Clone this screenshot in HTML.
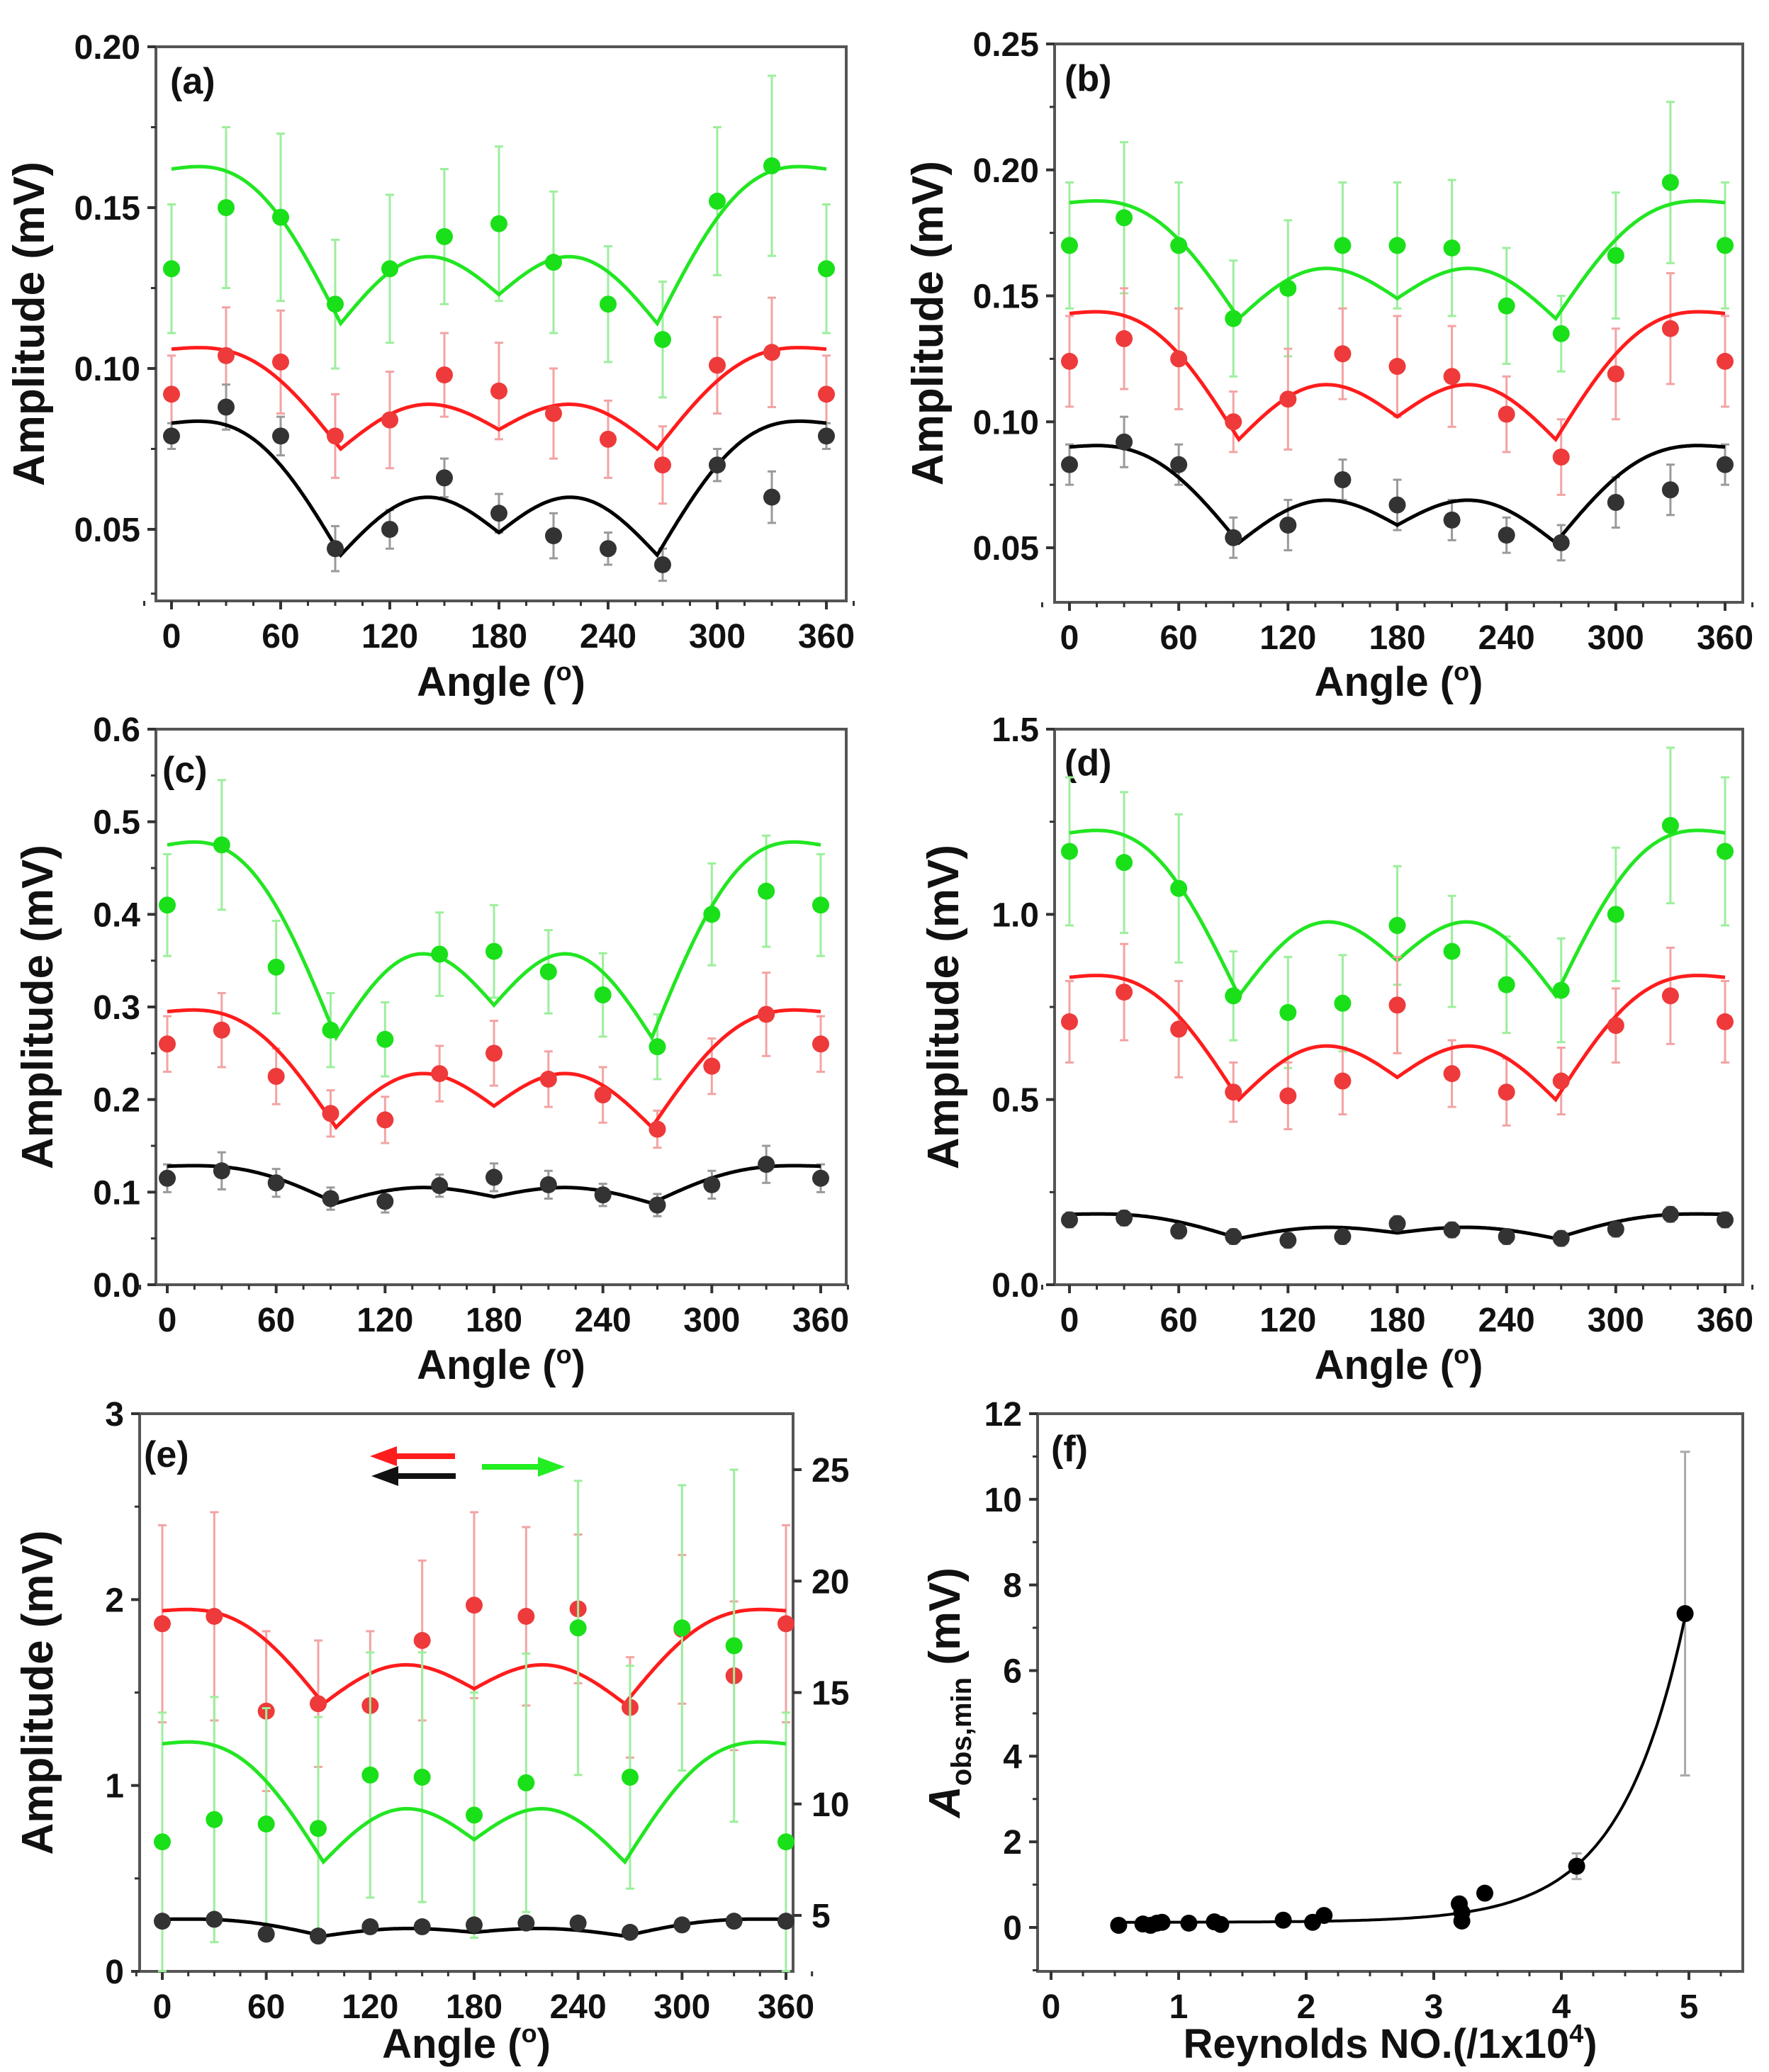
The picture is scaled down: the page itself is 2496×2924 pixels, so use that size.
<!DOCTYPE html>
<html><head><meta charset="utf-8">
<style>
html,body{margin:0;padding:0;background:#fff;}
svg{display:block;font-family:"Liberation Sans",Arial,sans-serif;font-weight:bold;}
</style></head>
<body>
<svg id="fig" width="2496" height="2924" viewBox="0 0 2496 2924" xmlns="http://www.w3.org/2000/svg"></svg>
<script>
// ---------- DATA ----------
const angles = [0,30,60,90,120,150,180,210,240,270,300,330,360];
// panel a
const aGreen = [0.131,0.150,0.147,0.120,0.131,0.141,0.145,0.133,0.120,0.109,0.152,0.163,0.131];
const aGreenErr = [0.02,0.025,0.026,0.02,0.023,0.021,0.024,0.022,0.018,0.018,0.023,0.028,0.02];
const aRed = [0.092,0.104,0.102,0.079,0.084,0.098,0.093,0.086,0.078,0.070,0.101,0.105,0.092];
const aRedErr = [0.012,0.015,0.016,0.013,0.015,0.013,0.015,0.014,0.012,0.012,0.015,0.017,0.012];
const aBlack = [0.079,0.088,0.079,0.044,0.050,0.066,0.055,0.048,0.044,0.039,0.070,0.060,0.079];
const aBlackErr = [0.004,0.007,0.006,0.007,0.006,0.006,0.006,0.007,0.005,0.005,0.005,0.008,0.004];
// fit params: [value at 0, lobe A bump, value at 93, lobe B bump, value at 180]
const aGreenFit = [0.162,0.0175,0.114,0.016,0.123];
const aRedFit = [0.106,0.0113,0.075,0.0107,0.081];
const aBlackFit = [0.083,0.0149,0.042,0.0143,0.049];
// panel b
const bGreen = [0.170,0.181,0.170,0.141,0.153,0.170,0.170,0.169,0.146,0.135,0.166,0.195,0.170];
const bGreenErr = [0.025,0.03,0.025,0.023,0.027,0.025,0.025,0.027,0.023,0.015,0.025,0.032,0.025];
const bRed = [0.124,0.133,0.125,0.100,0.109,0.127,0.122,0.118,0.103,0.086,0.119,0.137,0.124];
const bRedErr = [0.018,0.02,0.02,0.012,0.02,0.018,0.02,0.02,0.015,0.015,0.018,0.022,0.018];
const bBlack = [0.083,0.092,0.083,0.054,0.059,0.077,0.067,0.061,0.055,0.052,0.068,0.073,0.083];
const bBlackErr = [0.008,0.01,0.008,0.008,0.01,0.008,0.01,0.008,0.007,0.007,0.01,0.01,0.008];
const bGreenFit = [0.187,0.0167,0.141,0.0157,0.149];
const bRedFit = [0.143,0.018,0.093,0.017,0.102];
const bBlackFit = [0.090,0.0138,0.052,0.0132,0.059];
// panel c
const cGreen = [0.41,0.475,0.343,0.275,0.265,0.357,0.36,0.338,0.313,0.257,0.40,0.425,0.41];
const cGreenErr = [0.055,0.07,0.05,0.04,0.04,0.045,0.05,0.045,0.045,0.035,0.055,0.06,0.055];
const cRed = [0.26,0.275,0.225,0.185,0.178,0.228,0.25,0.222,0.205,0.168,0.236,0.292,0.26];
const cRedErr = [0.03,0.04,0.03,0.025,0.025,0.03,0.035,0.03,0.03,0.02,0.03,0.045,0.03];
const cBlack = [0.115,0.123,0.11,0.093,0.09,0.107,0.116,0.108,0.097,0.086,0.108,0.13,0.115];
const cBlackErr = [0.015,0.02,0.015,0.012,0.012,0.012,0.015,0.015,0.012,0.012,0.015,0.02,0.015];
const cGreenFit = [0.475,0.0756,0.267,0.072,0.302];
const cRedFit = [0.295,0.045,0.17,0.046,0.193];
const cBlackFit = [0.128,0.0145,0.088,0.0133,0.095];
// panel d
const dGreen = [1.17,1.14,1.07,0.78,0.735,0.76,0.97,0.90,0.81,0.795,1.0,1.24,1.17];
const dGreenErr = [0.2,0.19,0.2,0.12,0.15,0.13,0.16,0.15,0.13,0.14,0.18,0.21,0.2];
const dRed = [0.71,0.79,0.69,0.52,0.51,0.55,0.755,0.57,0.52,0.55,0.70,0.78,0.71];
const dRedErr = [0.11,0.13,0.13,0.08,0.09,0.09,0.13,0.09,0.09,0.09,0.1,0.13,0.11];
const dBlack = [0.175,0.18,0.145,0.13,0.12,0.13,0.165,0.148,0.13,0.125,0.15,0.19,0.175];
const dBlackErr = [0.02,0.02,0.02,0.02,0.02,0.02,0.02,0.02,0.02,0.02,0.02,0.02,0.02];
const dGreenFit = [1.22,0.16,0.78,0.149,0.875];
const dRedFit = [0.83,0.12,0.50,0.113,0.56];
const dBlackFit = [0.19,0.024,0.125,0.022,0.14];
// panel e (red, black on left axis; green on right axis)
const eRed = [1.87,1.91,1.40,1.44,1.43,1.78,1.97,1.91,1.95,1.42,1.84,1.59,1.87];
const eRedErr = [0.53,0.56,0.43,0.34,0.4,0.43,0.5,0.48,0.4,0.27,0.4,0.4,0.53];
const eBlack = [0.27,0.28,0.2,0.19,0.24,0.24,0.25,0.26,0.26,0.21,0.25,0.27,0.27];
const eBlackErr = [0.03,0.03,0.03,0.03,0.03,0.03,0.03,0.03,0.03,0.03,0.03,0.03,0.03];
const eGreen = [8.3,9.3,9.1,8.9,11.3,11.2,9.5,10.95,17.9,11.2,17.9,17.1,8.3];
const eGreenErr = [5.8,5.5,5.2,5.0,5.5,5.6,5.5,5.8,6.6,5.0,6.4,7.9,5.8];
const eRedFit = [1.94,0.18,1.44,0.167,1.52];
const eBlackFit = [0.28,0.033,0.19,0.03,0.21];
const eGreenFit = [12.7,1.93,7.4,1.86,8.4];
// panel f
const fX = [0.53,0.72,0.78,0.83,0.87,1.08,1.28,1.33,1.82,2.05,2.14,3.2,3.22,3.22,3.4,4.12,4.97];
const fY = [0.05,0.08,0.05,0.1,0.12,0.1,0.13,0.07,0.17,0.12,0.28,0.55,0.35,0.15,0.8,1.43,7.33];
const fErr = [0,0,0,0,0,0,0,0,0,0,0,0,0,0,0,0.3,3.78];
const fFit = [0.12,0.00038,1.98]; // a + b*exp(c*x)

// ---------- DRAWING ----------
const NS = "http://www.w3.org/2000/svg";
const svg = document.getElementById('fig');
function mk(tag, attrs, parent, text){
  const e = document.createElementNS(NS, tag);
  for (const k in attrs) e.setAttribute(k, attrs[k]);
  if (text !== undefined) e.textContent = text;
  (parent||svg).appendChild(e);
  return e;
}
const COL = {g:'#19e019', r:'#ee3a3a', k:'#333333'};
const ECOL = {g:'#9cef9c', r:'#f3a3a3', k:'#9a9a9a'};
const FCOL = {g:'#22e622', r:'#ff1c1c', k:'#000000'};
const TICKFS = 48, TITLEFS = 58;

function lin(d0,d1,r0,r1){ return v => r0 + (v-d0)*(r1-r0)/(d1-d0); }

function fitVal(p, th){
  let t = th > 180 ? 360 - th : th;
  const [v0,hA,vm,hB,v180] = p;
  if (t <= 93){ const u = t/93; return v0 + (vm-v0)*u + hA*Math.sin(Math.PI*u); }
  const u = (t-93)/87; return vm + (v180-vm)*u + hB*Math.sin(Math.PI*u);
}

function panel(cfg){
  const g = mk('g', {}, svg);
  
  
  const {x0,x1,y0,y1} = cfg.box;
  const sx = lin(cfg.xd[0], cfg.xd[1], cfg.xr[0], cfg.xr[1]);
  const sy = lin(cfg.yd[0], cfg.yd[1], cfg.yr[0], cfg.yr[1]);
  const fr = mk('rect', {x:x0,y:y0,width:x1-x0,height:y1-y0,fill:'none',stroke:'#555',"stroke-width":4}, g);
   
  const yax = mk('g', {}, g);
   
  cfg.yticks.forEach((v,i)=>{
    const y = sy(v);
    mk('line',{x1:x0-12,x2:x0,y1:y,y2:y,stroke:'#333',"stroke-width":4},yax);
    const t = mk('text',{x:x0-22,y:y+17,"text-anchor":"end","font-size":TICKFS,fill:'#111'},yax,cfg.ylabels[i]);
     
  });
  cfg.yminor.forEach(v=>{ const y=sy(v); mk('line',{x1:x0-7,x2:x0,y1:y,y2:y,stroke:'#333',"stroke-width":3},yax); });
  const xax = mk('g', {}, g);
   
  cfg.xticks.forEach((v,i)=>{
    const x = sx(v);
    mk('line',{x1:x,x2:x,y1:y1,y2:y1+12,stroke:'#333',"stroke-width":4},xax);
    const t = mk('text',{x:x,y:y1+66,"text-anchor":"middle","font-size":TICKFS,fill:'#111'},xax,cfg.xlabels[i]);
     
  });
  cfg.xminor.forEach(v=>{ const x=sx(v); mk('line',{x1:x,x2:x,y1:y1,y2:y1+7,stroke:'#333',"stroke-width":3},xax); });
  const xt = mk('text',{x:(x0+x1)/2,y:cfg.xtitleY,"text-anchor":"middle","font-size":TITLEFS,fill:'#111'},g);
   
  if (cfg.reynolds){
    xt.textContent = 'Reynolds NO.(/1x10';
    mk('tspan',{dy:-22,"font-size":36},xt,'4');
    mk('tspan',{dy:22},xt,')');
  } else {
    xt.textContent = 'Angle (';
    mk('tspan',{dy:-22,"font-size":36},xt,'o');
    mk('tspan',{dy:22},xt,')');
  }
  const ycx = cfg.ytitleX, ycy=(y0+y1)/2;
  const yt = mk('text',{x:ycx,y:ycy,"text-anchor":"middle","font-size":62,fill:'#111',transform:`rotate(-90 ${ycx} ${ycy})`},g);
   
  if (cfg.reynolds){
    mk('tspan',{"font-style":"italic"},yt,'A');
    mk('tspan',{dy:16,"font-size":40},yt,'obs,min');
    mk('tspan',{dy:-16},yt,' (mV)');
  } else yt.textContent = 'Amplitude (mV)';
  const pl = mk('text',{x:cfg.lab[0],y:cfg.lab[1],"font-size":52,fill:'#111'},g,cfg.label);
   
  return {g,sx,sy};
}

function series(P, xs, ys, errs, fit, c, name, syOverride){
  const sy = syOverride || P.sy, sx = P.sx;
  const g = mk('g',{},P.g);
   
  xs.forEach((xv,i)=>{
    const x=sx(xv), e=errs[i];
    if (e>0){
      const ya=sy(ys[i]+e), yb=sy(ys[i]-e);
      mk('line',{x1:x,x2:x,y1:ya,y2:yb,stroke:ECOL[c],"stroke-width":3},g);
      mk('line',{x1:x-6,x2:x+6,y1:ya,y2:ya,stroke:ECOL[c],"stroke-width":3},g);
      mk('line',{x1:x-6,x2:x+6,y1:yb,y2:yb,stroke:ECOL[c],"stroke-width":3},g);
    }
  });
  if (fit){
    let d='';
    for (let th=0; th<=360; th+=1){ d += (th?'L':'M') + sx(th).toFixed(1)+','+sy(fitVal(fit,th)).toFixed(1); }
    const p = mk('path',{d:d,fill:'none',stroke:FCOL[c],"stroke-width":5},g);
     
  }
  xs.forEach((xv,i)=>{
    const m = mk('circle',{cx:sx(xv),cy:sy(ys[i]),r:12,fill:COL[c]},g);
     
  });
}

const angTicks=[0,60,120,180,240,300,360], angLabels=['0','60','120','180','240','300','360'];
const angMinor=[]; for(let a=-15;a<=375;a+=15) if(a%60) angMinor.push(a);

// (a)
let P = panel({name:'panel-a',label:'(a)',lab:[240,132],box:{x0:220,x1:1194,y0:66,y1:848},
  xd:[0,360],xr:[242,1166],yd:[0.05,0.20],yr:[747,66],
  yticks:[0.05,0.10,0.15,0.20],ylabels:['0.05','0.10','0.15','0.20'],yminor:[0.03,0.075,0.125,0.175],
  xticks:angTicks,xlabels:angLabels,xminor:angMinor,xtitleY:982,ytitleX:62});
series(P,angles,aGreen,aGreenErr,aGreenFit,'g','green-series');
series(P,angles,aRed,aRedErr,aRedFit,'r','red-series');
series(P,angles,aBlack,aBlackErr,aBlackFit,'k','black-series');
// (b)
P = panel({name:'panel-b',label:'(b)',lab:[1502,128],box:{x0:1488,x1:2459,y0:62,y1:850},
  xd:[0,360],xr:[1509,2434],yd:[0.05,0.25],yr:[773,62],
  yticks:[0.05,0.10,0.15,0.20,0.25],ylabels:['0.05','0.10','0.15','0.20','0.25'],yminor:[0.075,0.125,0.175,0.225],
  xticks:angTicks,xlabels:angLabels,xminor:angMinor,xtitleY:982,ytitleX:1330});
series(P,angles,bGreen,bGreenErr,bGreenFit,'g','green-series');
series(P,angles,bRed,bRedErr,bRedFit,'r','red-series');
series(P,angles,bBlack,bBlackErr,bBlackFit,'k','black-series');
// (c)
P = panel({name:'panel-c',label:'(c)',lab:[229,1104],box:{x0:220,x1:1194,y0:1029,y1:1813},
  xd:[0,360],xr:[236,1158],yd:[0,0.6],yr:[1813,1029],
  yticks:[0,0.1,0.2,0.3,0.4,0.5,0.6],ylabels:['0.0','0.1','0.2','0.3','0.4','0.5','0.6'],yminor:[0.05,0.15,0.25,0.35,0.45,0.55],
  xticks:angTicks,xlabels:angLabels,xminor:angMinor,xtitleY:1946,ytitleX:74});
series(P,angles,cGreen,cGreenErr,cGreenFit,'g','green-series');
series(P,angles,cRed,cRedErr,cRedFit,'r','red-series');
series(P,angles,cBlack,cBlackErr,cBlackFit,'k','black-series');
// (d)
P = panel({name:'panel-d',label:'(d)',lab:[1502,1094],box:{x0:1488,x1:2459,y0:1029,y1:1813},
  xd:[0,360],xr:[1509,2434],yd:[0,1.5],yr:[1813,1029],
  yticks:[0,0.5,1.0,1.5],ylabels:['0.0','0.5','1.0','1.5'],yminor:[0.25,0.75,1.25],
  xticks:angTicks,xlabels:angLabels,xminor:angMinor,xtitleY:1946,ytitleX:1352});
series(P,angles,dGreen,dGreenErr,dGreenFit,'g','green-series');
series(P,angles,dRed,dRedErr,dRedFit,'r','red-series');
series(P,angles,dBlack,dBlackErr,dBlackFit,'k','black-series');
// (e)
P = panel({name:'panel-e',label:'(e)',lab:[203,2070],box:{x0:197,x1:1119,y0:1995,y1:2782},
  xd:[0,360],xr:[229,1109],yd:[0,3],yr:[2782,1995],
  yticks:[0,1,2,3],ylabels:['0','1','2','3'],yminor:[0.5,1.5,2.5],
  xticks:angTicks,xlabels:angLabels,xminor:angMinor,xtitleY:2904,ytitleX:74});
const syR = lin(5,25,2703,2074);
const rax = mk('g',{},P.g);
 
const rTicks=[5,10,15,20,25], rLabels=['5','10','15','20','25'];
rTicks.forEach((v,i)=>{
  const y=syR(v);
  mk('line',{x1:1119,x2:1131,y1:y,y2:y,stroke:'#333',"stroke-width":4},rax);
  const t=mk('text',{x:1145,y:y+17,"font-size":TICKFS,fill:'#111'},rax,rLabels[i]);
   
});
series(P,angles,eRed,eRedErr,eRedFit,'r','red-series');
series(P,angles,eGreen,eGreenErr,eGreenFit,'g','green-series',syR);
series(P,angles,eBlack,eBlackErr,eBlackFit,'k','black-series');
function arrow(xa,xb,y,c,name){
  const a=mk('g',{},P.g);
   
  const dir = xb>xa?1:-1;
  mk('line',{x1:xa,x2:xb-dir*26,y1:y,y2:y,stroke:c,"stroke-width":8},a);
  mk('polygon',{points:`${xb},${y} ${xb-dir*38},${y-14} ${xb-dir*38},${y+14}`,fill:c},a);
}
arrow(642,522,2055,'#ff1c1c','red-left-arrow');
arrow(643,524,2083,'#111','black-left-arrow');
arrow(680,797,2070,'#22ee22','green-right-arrow');
// (f)
P = panel({name:'panel-f',label:'(f)',lab:[1483,2062],box:{x0:1464,x1:2459,y0:1995,y1:2782},
  xd:[0,5],xr:[1483,2383],yd:[0,12],yr:[2720,1995],reynolds:true,
  yticks:[0,2,4,6,8,10,12],ylabels:['0','2','4','6','8','10','12'],yminor:[-1,1,3,5,7,9,11],
  xticks:[0,1,2,3,4,5],xlabels:['0','1','2','3','4','5'],xminor:[0.5,1.5,2.5,3.5,4.5,5.25,0.25,0.75,1.25,1.75,2.25,2.75,3.25,3.75,4.25,4.75],
  xtitleY:2904,ytitleX:1354});
(function(){
  const g=mk('g',{},P.g);
   
  fX.forEach((xv,i)=>{ if(fErr[i]>0){ const x=P.sx(xv),ya=P.sy(fY[i]+fErr[i]),yb=P.sy(fY[i]-fErr[i]);
    mk('line',{x1:x,x2:x,y1:ya,y2:yb,stroke:'#aaa',"stroke-width":3},g);
    mk('line',{x1:x-7,x2:x+7,y1:ya,y2:ya,stroke:'#aaa',"stroke-width":3},g);
    mk('line',{x1:x-7,x2:x+7,y1:yb,y2:yb,stroke:'#aaa',"stroke-width":3},g);} });
  let d='';
  for(let i=0;i<=200;i++){ const xv=0.5+i*(4.97-0.5)/200; const yv=fFit[0]+fFit[1]*Math.exp(fFit[2]*xv);
    d+=(i?'L':'M')+P.sx(xv).toFixed(1)+','+P.sy(yv).toFixed(1); }
  const p=mk('path',{d:d,fill:'none',stroke:'#000',"stroke-width":4},g);
   
  fX.forEach((xv,i)=>{ const c=mk('circle',{cx:P.sx(xv),cy:P.sy(fY[i]),r:12,fill:'#000'},g);
      });
})();
</script>
</body></html>
